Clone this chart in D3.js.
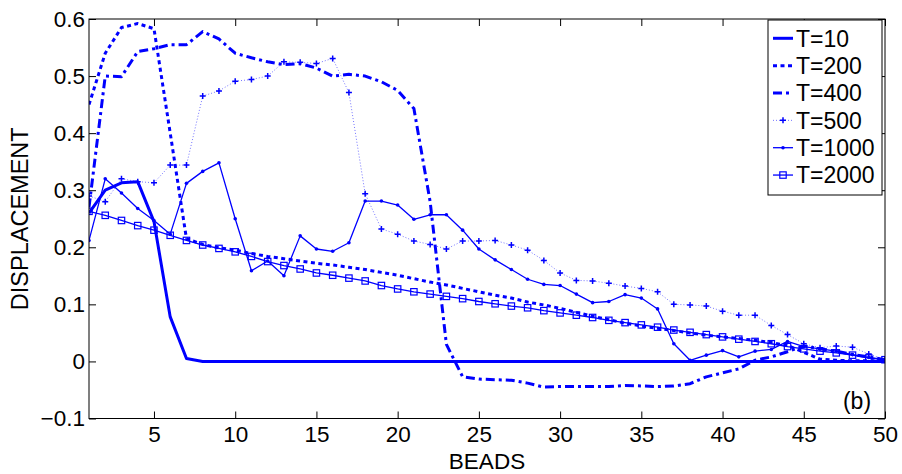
<!DOCTYPE html>
<html>
<head>
<meta charset="utf-8">
<script src="https://cdn.jsdelivr.net/npm/d3@7/dist/d3.min.js"></script>
<style>
  html, body { margin: 0; padding: 0; background: #fff; }
  svg { display: block; }
  text { font-family: "Liberation Sans", Arial, Helvetica, sans-serif; fill: #000; }
</style>
</head>
<body>
<svg id="chart" width="902" height="474"></svg>
<script>
// ---------------- data ----------------
const beads = [1,2,3,4,5,6,7,8,9,10,11,12,13,14,15,16,17,18,19,20,21,22,23,24,25,26,27,28,29,30,31,32,33,34,35,36,37,38,39,40,41,42,43,44,45,46,47,48,49,50];

const t10 = [0.26,0.30,0.313,0.315,0.245,0.078,0.005,0,0,0,
             0,0,0,0,0,0,0,0,0,0,
             0,0,0,0,0,0,0,0,0,0,
             0,0,0,0,0,0,0,0,0,0,
             0,0,0,0,0,0,0,0,0,0];

const t200 = [0.45,0.54,0.585,0.592,0.583,0.40,0.215,0.205,0.199,0.195,
              0.189,0.184,0.18,0.176,0.172,0.169,0.165,0.161,0.156,0.151,
              0.145,0.139,0.134,0.128,0.122,0.116,0.111,0.104,0.099,0.093,
              0.086,0.079,0.073,0.067,0.062,0.058,0.054,0.05,0.046,0.043,
              0.04,0.037,0.033,0.028,0.016,0.004,0.002,0.001,0.001,0.001];

const t400 = [0.27,0.50,0.499,0.543,0.548,0.555,0.555,0.578,0.565,0.54,
              0.532,0.525,0.52,0.522,0.514,0.50,0.503,0.50,0.49,0.475,
              0.443,0.28,0.03,-0.027,-0.031,-0.032,-0.033,-0.038,-0.045,-0.044,
              -0.044,-0.044,-0.044,-0.042,-0.043,-0.044,-0.043,-0.039,-0.027,-0.02,
              -0.013,0.002,0.008,0.017,0.027,0.022,0.018,0.012,0.008,0.003];

const t500 = [0.29,0.28,0.32,0.315,0.313,0.344,0.344,0.465,0.474,0.491,
              0.494,0.50,0.525,0.524,0.522,0.531,0.471,0.294,0.232,0.223,
              0.211,0.205,0.197,0.211,0.211,0.212,0.204,0.195,0.177,0.155,
              0.142,0.141,0.137,0.132,0.128,0.122,0.100,0.099,0.097,0.088,
              0.081,0.081,0.063,0.047,0.031,0.024,0.027,0.025,0.013,0.003];

const t1000 = [0.212,0.32,0.295,0.268,0.247,0.223,0.312,0.333,0.348,0.25,
               0.159,0.176,0.15,0.22,0.197,0.193,0.208,0.281,0.281,0.274,
               0.249,0.257,0.257,0.23,0.197,0.178,0.161,0.144,0.135,0.133,
               0.118,0.103,0.105,0.117,0.111,0.092,0.031,0.002,0.011,0.019,
               0.008,0.018,0.021,0.035,0.026,0.022,0.018,0.012,0.007,0.003];

const t2000 = [0.263,0.256,0.247,0.238,0.23,0.221,0.212,0.204,0.198,0.192,
               0.184,0.175,0.168,0.162,0.155,0.151,0.146,0.141,0.133,0.127,
               0.122,0.118,0.114,0.110,0.105,0.101,0.097,0.094,0.089,0.085,
               0.081,0.077,0.072,0.068,0.064,0.060,0.055,0.051,0.047,0.043,
               0.039,0.035,0.031,0.026,0.022,0.018,0.015,0.011,0.006,0.003];

const seriesNames = ["T=10","T=200","T=400","T=500","T=1000","T=2000"];
const xTickValues = [5,10,15,20,25,30,35,40,45,50];
const yTickValues = [-0.1,0,0.1,0.2,0.3,0.4,0.5,0.6];
const yTickLabels = ["\u22120.1","0","0.1","0.2","0.3","0.4","0.5","0.6"];
const xLabel = "BEADS";
const yLabel = "DISPLACEMENT";
const panelLabel = "(b)";

// ---------------- layout / styles ----------------
const L = 89, R = 885, T = 19, B = 418.5;
const blue = "#0000ff";
const styles = [
  {width: 3,   dash: null,        opacity: 1,   marker: null},
  {width: 3,   dash: "4,3.5",     opacity: 1,   marker: null},
  {width: 3,   dash: "9,4,3,4",   opacity: 1,   marker: null},
  {width: 1,   dash: "1,2",       opacity: 0.55, marker: "plus"},
  {width: 1.3, dash: null,        opacity: 1,   marker: "dot"},
  {width: 1.3, dash: null,        opacity: 1,   marker: "square"}
];
const allSeries = [t10, t200, t400, t500, t1000, t2000];

const svg = d3.select("#chart");
const x = d3.scaleLinear().domain([1, 50]).range([L, R]);
const y = d3.scaleLinear().domain([-0.1, 0.6]).range([B, T]);

// axes
const fontSize = 22.5;
const xAxis = d3.axisBottom(x).tickValues(xTickValues).tickSize(-7).tickPadding(8).tickFormat(d3.format("d"));
const gx = svg.append("g").attr("transform", `translate(0,${B})`).call(xAxis);
const gxt = svg.append("g").attr("transform", `translate(0,${T})`).call(d3.axisTop(x).tickValues(xTickValues).tickSize(-7).tickFormat(""));
const yAxis = d3.axisLeft(y).tickValues(yTickValues).tickSize(-7).tickPadding(4)
  .tickFormat((d, i) => yTickLabels[i]);
const gy = svg.append("g").attr("transform", `translate(${L},0)`).call(yAxis);
const gyr = svg.append("g").attr("transform", `translate(${R},0)`).call(d3.axisRight(y).tickValues(yTickValues).tickSize(-7).tickFormat(""));
[gx, gxt, gy, gyr].forEach(g => {
  g.select(".domain").remove();
  g.selectAll(".tick line").attr("stroke", "#000").attr("stroke-width", 1);
  g.selectAll("text").attr("font-size", fontSize).attr("font-family", "Liberation Sans, Arial, sans-serif").attr("fill", "#000");
});
gx.selectAll("text").attr("dy", "0.68em");

// clip
svg.append("clipPath").attr("id", "clip").append("rect")
  .attr("x", L).attr("y", T).attr("width", R - L).attr("height", B - T);

const line = d3.line().x((d, i) => x(beads[i])).y(d => y(d));
const plot = svg.append("g").attr("clip-path", "url(#clip)");

function drawMarker(g, type, cx, cy) {
  if (type === "plus") {
    g.append("path").attr("d", `M${cx-3},${cy}H${cx+3}M${cx},${cy-3}V${cy+3}`)
      .attr("stroke", blue).attr("stroke-width", 1.5).attr("fill", "none");
  } else if (type === "dot") {
    g.append("circle").attr("cx", cx).attr("cy", cy).attr("r", 1.8).attr("fill", blue);
  } else if (type === "square") {
    g.append("rect").attr("x", cx - 3.2).attr("y", cy - 3.2).attr("width", 6.4).attr("height", 6.4)
      .attr("fill", "none").attr("stroke", blue).attr("stroke-width", 1.2);
  }
}

allSeries.forEach((vals, si) => {
  const st = styles[si];
  const p = plot.append("path").datum(vals).attr("d", line)
    .attr("fill", "none").attr("stroke", blue).attr("stroke-width", st.width)
    .attr("stroke-opacity", st.opacity)
    .attr("stroke-linejoin", "round");
  if (st.dash) p.attr("stroke-dasharray", st.dash);
  if (st.marker) {
    const mg = plot.append("g");
    vals.forEach((v, i) => drawMarker(mg, st.marker, x(beads[i]), y(v)));
  }
});

// frame
svg.append("rect").attr("x", L).attr("y", T).attr("width", R - L).attr("height", B - T)
  .attr("fill", "none").attr("stroke", "#000").attr("stroke-width", 1);

// axis labels
svg.append("text").attr("x", (L + R) / 2).attr("y", 468.5).attr("text-anchor", "middle")
  .attr("font-size", 22.5).text(xLabel);
svg.append("text").attr("transform", `translate(28,${(T + B) / 2}) rotate(-90)`)
  .attr("text-anchor", "middle").attr("font-size", 23.5).text(yLabel);

// panel label
svg.append("text").attr("x", 857).attr("y", 409).attr("text-anchor", "middle")
  .attr("font-size", 23).text(panelLabel);

// legend
const lg = svg.append("g");
lg.append("rect").attr("x", 768).attr("y", 20).attr("width", 114).attr("height", 175)
  .attr("fill", "#fff").attr("stroke", "#000").attr("stroke-width", 1);
seriesNames.forEach((name, i) => {
  const cy = 38.3 + i * 27.35;
  const st = styles[i];
  const ln = lg.append("line").attr("x1", 773).attr("x2", 793).attr("y1", cy).attr("y2", cy)
    .attr("stroke", blue).attr("stroke-width", st.width).attr("stroke-opacity", st.opacity);
  if (st.dash) ln.attr("stroke-dasharray", st.dash);
  if (st.marker) drawMarker(lg, st.marker, 783, cy);
  lg.append("text").attr("x", 796).attr("y", cy + 8.3).attr("font-size", 23).text(name);
});
</script>
</body>
</html>
